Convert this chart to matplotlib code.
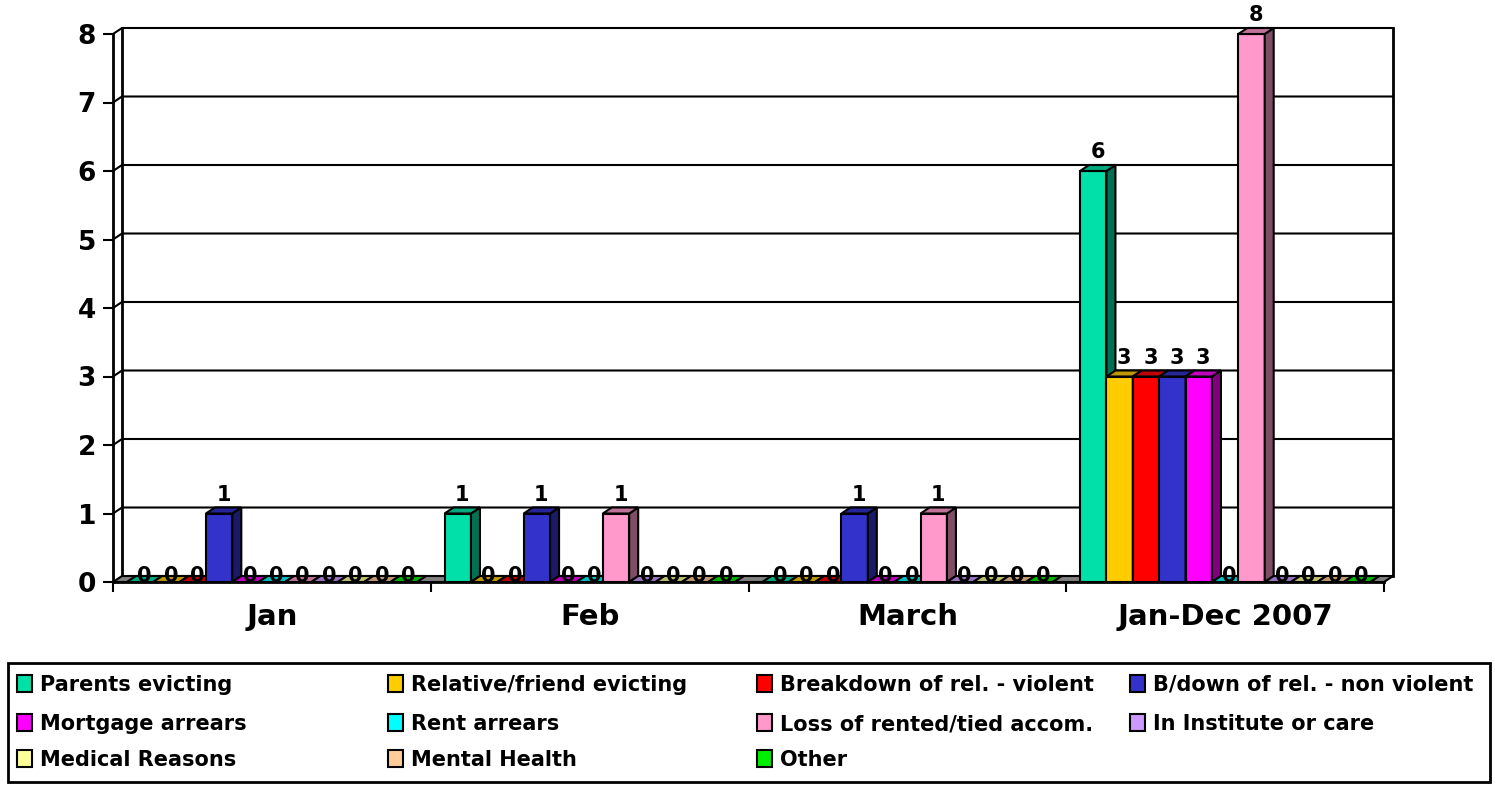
import matplotlib.pyplot as plt
import numpy as np
from matplotlib.colors import to_rgb
from matplotlib.patches import Polygon, Rectangle

categories = ['Jan', 'Feb', 'March', 'Jan-Dec 2007']
series = ['Parents evicting', 'Relative/friend evicting', 'Breakdown of rel. - violent',
          'B/down of rel. - non violent', 'Mortgage arrears', 'Rent arrears',
          'Loss of rented/tied accom.', 'In Institute or care', 'Medical Reasons',
          'Mental Health', 'Other']

parents = [0, 1, 0, 6]
relative = [0, 0, 0, 3]
violent = [0, 0, 0, 3]
non_violent = [1, 1, 1, 3]
mortgage = [0, 0, 0, 3]
rent = [0, 0, 0, 0]
loss = [0, 1, 1, 8]
institute = [0, 0, 0, 0]
medical = [0, 0, 0, 0]
mental = [0, 0, 0, 0]
other = [0, 0, 0, 0]
values = [parents, relative, violent, non_violent, mortgage, rent, loss,
          institute, medical, mental, other]

colors = ['#00E0A8', '#FFCC00', '#FF0000', '#3333CC', '#FF00FF', '#00FFFF',
          '#FF99CC', '#CC99FF', '#FFFF99', '#FFCC99', '#00EE00']

W, H = 1495, 787
plt.rcParams['font.family'] = 'DejaVu Sans'
plt.rcParams['font.weight'] = 'bold'

fig = plt.figure(figsize=(W / 100, H / 100), dpi=100)
ax = fig.add_axes([113 / W, 1 - 582 / H, 1271 / W, 548 / H])
ax.set_xlim(0, 4)
ax.set_ylim(0, 8)
for sp in ax.spines.values():
    sp.set_visible(False)

# depth of the fake 3d box, in data units
dx = 9 * 4 / 1271
dy = 6 * 8 / 548

# back wall and grid
for v in range(1, 9):
    ax.plot([0, dx, 4 + dx], [v, v + dy, v + dy], color='k', lw=1.5, zorder=1, clip_on=False)
ax.plot([dx, dx], [dy, 8 + dy], color='k', lw=2, zorder=1, clip_on=False)
ax.plot([4 + dx, 4 + dx], [dy, 8 + dy], color='k', lw=2, zorder=1, clip_on=False)
ax.plot([0, 0], [0, 8], color='k', lw=2, zorder=1, clip_on=False)

# floor
ax.add_patch(Polygon([(0, 0), (4, 0), (4 + dx, dy), (dx, dy)], closed=True,
                     fc='#808080', ec='k', lw=1.5, zorder=2, clip_on=False))

w = 0.083
off = (1 - len(series) * w) / 2
x = np.arange(len(categories))

for s, (vals, col) in enumerate(zip(values, colors)):
    rgb = np.array(to_rgb(col))
    bars = ax.bar(x + off + s * w, vals, width=w, align='edge', color=col,
                  edgecolor='k', lw=1.5, zorder=3, clip_on=False)
    for b, v in zip(bars, vals):
        x0, wd, h = b.get_x(), b.get_width(), b.get_height()
        side = [(x0 + wd, 0), (x0 + wd + dx, dy), (x0 + wd + dx, h + dy), (x0 + wd, h)]
        top = [(x0, h), (x0 + wd, h), (x0 + wd + dx, h + dy), (x0 + dx, h + dy)]
        ax.add_patch(Polygon(side, closed=True, fc=rgb * 0.5, ec='k', lw=1.5,
                             zorder=3, clip_on=False))
        ax.add_patch(Polygon(top, closed=True, fc=rgb * 0.75, ec='k', lw=1.5,
                             zorder=3, clip_on=False))
        if v == 0:
            ax.annotate('0', (x0 + wd / 2 + dx / 2, 0), xytext=(0, 0),
                        textcoords='offset points', ha='center', va='baseline',
                        fontsize=15, fontweight='bold', zorder=5, annotation_clip=False)
        else:
            ax.annotate(str(v), (x0 + wd / 2 + dx / 2, h + dy), xytext=(0, 5),
                        textcoords='offset points', ha='center', va='baseline',
                        fontsize=15, fontweight='bold', zorder=5, annotation_clip=False)

ax.set_yticks(range(9))
ax.tick_params(axis='y', length=7.2, width=1.5, pad=5, labelsize=19)
ax.set_xticks(range(5))
ax.set_xticklabels([])
ax.set_xticks(x + 0.5, minor=True)
ax.set_xticklabels(categories, minor=True, fontsize=21, fontweight='bold')
ax.tick_params(axis='x', which='major', length=7.2, width=1.5)
ax.tick_params(axis='x', which='minor', length=0, pad=15)
ax.plot([0, 4], [0, 0], color='k', lw=2, zorder=6, clip_on=False)

# legend box, 4 columns x 3 rows
fig.add_artist(Rectangle((8 / W, 1 - 782 / H), 1482 / W, 119 / H, transform=fig.transFigure,
                         fill=False, ec='k', lw=2))
col_x = [17, 388, 757, 1130]
row_y = [683, 722, 758]
for i, (name, col) in enumerate(zip(series, colors)):
    r, c = divmod(i, 4)
    px, py = col_x[c], row_y[r]
    fig.add_artist(Rectangle((px / W, 1 - (py + 8.5) / H), 15 / W, 17 / H,
                             transform=fig.transFigure, fc=col, ec='k', lw=1.5))
    fig.text((px + 23) / W, 1 - py / H, name, va='center_baseline', ha='left',
             fontsize=15, fontweight='bold')

fig.savefig('out.png', dpi=100)
